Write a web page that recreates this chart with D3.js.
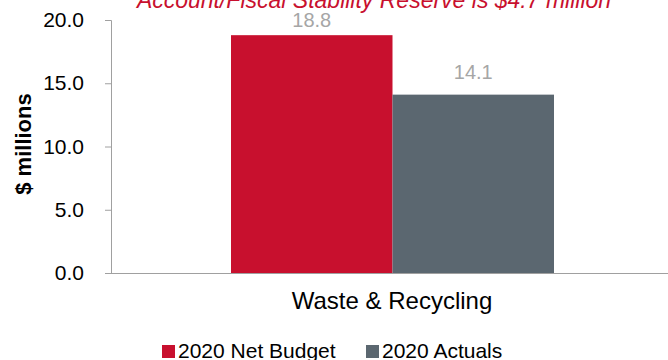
<!DOCTYPE html>
<html>
<head>
<meta charset="utf-8">
<script src="https://cdn.jsdelivr.net/npm/d3@7"></script>
<style>
  body { margin: 0; background: #fff; }
  text { font-family: Arial, "Liberation Sans", sans-serif; }
</style>
</head>
<body>
<div id="chart"></div>
<script>
// chart data
var categories = ['Waste & Recycling'];
var seriesNames = ['2020 Net Budget', '2020 Actuals'];
var seriesValues = [18.8, 14.1];
var seriesColors = ['#C8102E', '#5B6770'];
var yTicks = [0, 5, 10, 15, 20];

var W = 668, H = 360;
var svg = d3.select('#chart').append('svg')
  .attr('width', W).attr('height', H);

var x = d3.scaleBand().domain(categories).range([111, 673]);
var x1 = d3.scaleBand().domain(seriesNames)
  .range([x(categories[0]) + 120, x(categories[0]) + x.bandwidth() - 119]);
var y = d3.scaleLinear().domain([0, 20]).range([273, 20]);

// title (cut off at the top, like the original)
svg.append('text')
  .attr('x', 374).attr('y', 8)
  .attr('text-anchor', 'middle')
  .attr('font-size', 23).attr('font-style', 'italic')
  .attr('fill', '#C8102E')
  .text('Account/Fiscal Stability Reserve is $4.7 million');

// y axis
var yAxis = svg.append('g')
  .attr('transform', 'translate(111,0)')
  .call(d3.axisLeft(y).tickValues(yTicks).tickSize(6).tickPadding(21)
    .tickFormat(d3.format('.1f')));
yAxis.select('.domain').attr('stroke', '#A0A0A0').attr('d', 'M-6,20.5H0.5V273');
yAxis.selectAll('.tick line').attr('stroke', '#A0A0A0');
yAxis.selectAll('.tick text').attr('font-size', 21).attr('fill', '#000')
  .attr('font-family', 'Arial, "Liberation Sans", sans-serif');

// baseline
svg.append('line')
  .attr('x1', 105).attr('x2', W)
  .attr('y1', y(0) + 0.5).attr('y2', y(0) + 0.5)
  .attr('stroke', '#A0A0A0');

// bars
svg.selectAll('rect.bar')
  .data(seriesValues)
  .enter().append('rect')
  .attr('class', 'bar')
  .attr('x', function(d, i) { return x1(seriesNames[i]); })
  .attr('y', function(d) { return y(d); })
  .attr('width', x1.bandwidth())
  .attr('height', function(d) { return y(0) - y(d); })
  .attr('fill', function(d, i) { return seriesColors[i]; });

// value labels, pushed down when they would hit the top of the plot
svg.selectAll('text.val')
  .data(seriesValues)
  .enter().append('text')
  .attr('class', 'val')
  .attr('x', function(d, i) { return x1(seriesNames[i]) + x1.bandwidth() / 2; })
  .attr('y', function(d) { return Math.max(y(d) - 16, 27); })
  .attr('text-anchor', 'middle')
  .attr('font-size', 20)
  .attr('fill', '#A6A6A6')
  .text(function(d) { return d.toFixed(1); });

// category label
svg.append('text')
  .attr('x', x(categories[0]) + x.bandwidth() / 2).attr('y', 309)
  .attr('text-anchor', 'middle')
  .attr('font-size', 24).attr('fill', '#000')
  .text(categories[0]);

// y title
svg.append('text')
  .attr('transform', 'translate(31,144) rotate(-90)')
  .attr('text-anchor', 'middle')
  .attr('font-size', 22).attr('font-weight', 'bold').attr('fill', '#000')
  .text('$ millions');

// legend
var legendX = [162, 366];
var legend = svg.selectAll('g.leg')
  .data(seriesNames)
  .enter().append('g')
  .attr('class', 'leg')
  .attr('transform', function(d, i) { return 'translate(' + legendX[i] + ',345)'; });
legend.append('rect')
  .attr('width', 13).attr('height', 13)
  .attr('fill', function(d, i) { return seriesColors[i]; });
legend.append('text')
  .attr('x', 16).attr('y', 13)
  .attr('font-size', 21).attr('fill', '#000')
  .text(function(d) { return d; });
</script>
</body>
</html>
